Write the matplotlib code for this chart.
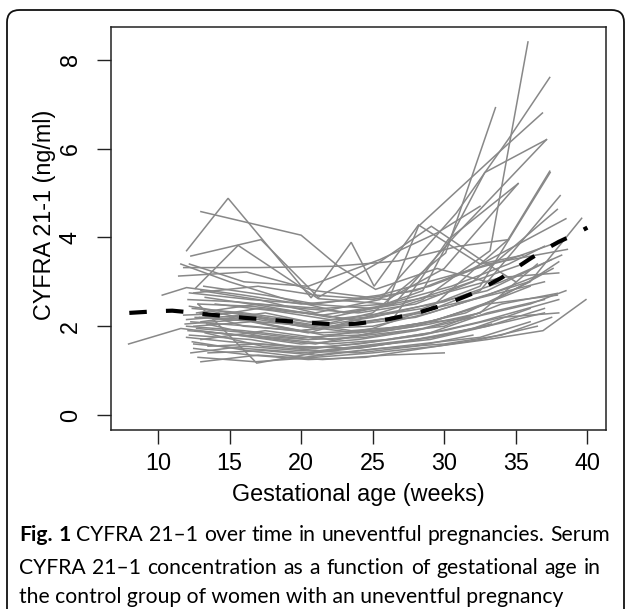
import matplotlib
matplotlib.use("Agg")
import matplotlib.pyplot as plt
from matplotlib.patches import FancyBboxPatch

# ---------------- data ----------------
traj_weeks = [
    [12.0, 14.9, 20.7, 23.5, 25.1, 28.2, 32.5, 35.5],
    [13.0, 20.0, 22.6, 25.2, 29.5, 33.0],
    [12.3, 17.2, 21.2, 25.5, 29.1, 33.0, 35.0],
    [11.8, 17.0, 22.4, 26.8, 31.0, 34.5],
    [11.45, 16.2, 21.0, 26.0, 30.0, 35.16],
    [12.6, 15.6, 21.2, 26.0, 30.5, 34.5, 37.0],
    [12.5, 16.5, 20.5, 24.5, 28.5, 33.2, 35.85],
    [13.0, 17.0, 21.0, 25.5, 30.85, 34.46, 37.37],
    [12.7, 17.0, 21.5, 26.0, 28.2, 33.76, 36.86],
    [12.9, 17.0, 21.0, 25.0, 30.1, 33.58],
    [13.3, 17.5, 22.0, 26.5, 30.74, 37.14],
    [12.2, 16.5, 20.5, 25.0, 28.5, 32.83, 37.14],
    [13.0, 17.5, 22.0, 26.5, 30.27, 35.16],
    [12.1, 16.0, 20.5, 25.0, 29.0, 34.46, 37.37],
    [12.2, 16.0, 20.5, 25.5, 29.5, 32.5],
    [11.6, 15.0, 19.0, 23.0, 27.0, 31.0, 35.5],
    [13.0, 17.0, 21.5, 26.0, 30.0],
    [12.8, 16.8, 21.0, 25.0, 29.5, 33.0, 36.9, 39.9],
    [13.5, 17.5, 21.0, 25.5, 30.0, 34.0, 37.5],
    [12.5, 16.0, 20.5, 24.5, 29.0, 33.0, 37.0],
    [12.2, 16.5, 20.0, 24.0, 28.5, 32.5, 38.0],
    [7.95, 11.6, 15.5, 20.0, 24.0, 28.0, 32.0],
    [12.0, 16.0, 20.0, 24.0, 28.0, 32.0, 36.0],
    [12.3, 16.5, 21.0, 25.0, 29.0, 33.0, 37.9],
    [12.6, 17.0, 21.0, 25.0, 29.0, 33.0, 37.0],
    [11.8, 15.5, 19.5, 23.5, 27.5, 31.5, 36.0, 39.6],
    [12.4, 16.0, 20.5, 24.5, 28.5, 32.5, 37.4],
    [12.8, 16.5, 20.5, 24.5, 28.5, 32.5, 38.1],
    [12.1, 15.5, 20.0, 24.0, 28.0, 32.0, 37.9],
    [10.3, 12.0, 16.0, 20.0, 24.0, 28.0, 32.0, 38.5],
    [12.5, 17.0, 21.0, 25.0, 29.0, 33.0, 38.6],
    [13.2, 17.5, 21.0, 25.5, 30.0, 34.5, 38.0],
    [12.0, 15.0, 19.5, 24.0, 28.0, 32.0, 36.0],
    [13.5, 17.0, 21.0, 25.0, 29.0, 33.0, 37.0],
    [12.7, 16.5, 20.5, 24.5, 28.5, 32.5, 36.5],
    [12.9, 16.0, 20.0, 24.0, 28.0, 32.0, 37.0],
    [12.2, 17.0, 21.0, 25.0, 29.0, 33.0, 37.5],
    [13.0, 17.5, 22.0, 26.0, 30.0, 34.0, 37.9],
    [13.4, 17.5, 22.0, 26.0, 30.0, 34.0, 38.0],
    [12.3, 16.0, 20.0, 24.0, 28.0, 32.0],
    [12.8, 16.9, 21.0, 25.0, 29.0, 33.0, 37.0],
    [12.4, 16.3, 20.2, 24.2, 28.3, 32.5, 36.0],
    [13.3, 17.3, 21.3, 25.3, 29.3, 33.3],
    [12.0, 16.0, 20.0, 24.0, 28.0, 32.0, 36.0, 38.5],
    [13.6, 17.6, 21.6, 25.6, 29.6, 33.6, 37.6],
    [12.5, 16.5, 20.5, 24.5, 28.5, 32.5, 36.5],
    [11.9, 15.9, 19.9, 23.9, 27.9, 31.9, 35.9, 38.0],
    [14.0, 18.0, 22.0, 26.0, 30.0, 34.0, 38.2],
    [12.6, 17.0, 21.0, 25.0, 29.0, 32.5],
    [13.1, 17.0, 21.5, 25.5, 29.5, 34.0, 38.0],
]
traj_values = [
    [3.70, 4.88, 2.64, 3.89, 2.90, 4.28, 3.40, 3.60],
    [4.58, 4.05, 3.35, 2.83, 3.30, 3.00],
    [3.58, 3.95, 2.65, 3.45, 4.25, 3.40, 3.00],
    [3.32, 3.32, 3.35, 3.47, 3.80, 3.95],
    [3.13, 3.22, 2.80, 2.60, 3.30, 5.21],
    [2.85, 3.82, 2.62, 2.50, 2.90, 3.40, 3.80],
    [2.00, 2.10, 1.85, 2.20, 2.60, 3.70, 8.40],
    [2.80, 2.60, 2.30, 2.60, 4.55, 6.20, 7.60],
    [2.30, 2.50, 2.40, 2.50, 4.25, 5.90, 6.80],
    [2.20, 2.10, 2.00, 2.30, 3.65, 6.92],
    [2.65, 2.45, 2.20, 2.50, 4.03, 6.20],
    [2.75, 2.60, 2.50, 2.40, 2.80, 5.46, 6.20],
    [2.10, 2.30, 2.00, 2.20, 3.95, 5.21],
    [1.90, 1.80, 1.70, 1.95, 2.40, 3.95, 5.49],
    [3.40, 3.00, 2.90, 3.50, 4.10, 4.70],
    [3.40, 3.00, 2.60, 2.30, 2.50, 2.90, 3.40],
    [1.20, 1.35, 1.25, 1.35, 1.40],
    [1.30, 1.20, 1.30, 1.40, 1.55, 1.70, 1.90, 2.60],
    [1.40, 1.45, 1.35, 1.50, 1.60, 1.80, 2.20],
    [1.60, 1.50, 1.40, 1.55, 1.70, 2.00, 2.30],
    [1.80, 1.70, 1.50, 1.60, 1.80, 2.10, 2.60],
    [1.60, 1.95, 1.80, 1.60, 1.70, 1.90, 2.20],
    [2.00, 1.90, 1.75, 1.80, 2.00, 2.40, 2.90],
    [2.10, 2.00, 1.85, 1.90, 2.10, 2.50, 2.70],
    [2.20, 2.15, 1.95, 2.00, 2.30, 2.70, 3.20],
    [2.25, 2.30, 2.10, 1.90, 2.00, 2.30, 3.00, 4.43],
    [2.40, 2.30, 2.10, 2.20, 2.40, 2.90, 5.46],
    [2.50, 2.45, 2.30, 2.10, 2.30, 2.80, 4.94],
    [2.60, 2.55, 2.40, 2.30, 2.50, 3.00, 4.63],
    [2.70, 2.87, 2.70, 2.50, 2.60, 2.80, 3.30, 4.42],
    [2.75, 2.90, 2.70, 2.60, 2.90, 3.40, 3.73],
    [2.90, 2.70, 2.50, 2.70, 3.10, 3.50, 3.90],
    [1.75, 1.65, 1.55, 1.50, 1.70, 1.95, 2.40],
    [1.55, 1.60, 1.50, 1.65, 1.85, 2.30, 2.60],
    [1.95, 1.85, 1.70, 1.75, 1.95, 2.30, 3.40],
    [2.30, 2.00, 1.90, 2.05, 2.20, 2.60, 3.00],
    [2.45, 2.20, 2.00, 2.20, 2.50, 2.80, 3.50],
    [1.70, 1.90, 1.70, 1.85, 2.00, 2.50, 2.74],
    [2.05, 1.75, 1.60, 1.70, 1.90, 2.20, 2.30],
    [1.40, 1.55, 1.45, 1.40, 1.55, 1.80],
    [2.50, 1.17, 1.40, 1.55, 1.75, 2.00, 2.40],
    [1.65, 1.45, 1.30, 1.45, 1.60, 1.75, 2.10],
    [1.85, 1.55, 1.45, 1.60, 1.75, 2.05],
    [2.15, 2.25, 2.00, 1.85, 2.05, 2.20, 2.50, 2.80],
    [2.35, 2.05, 1.80, 1.90, 2.15, 2.60, 3.30],
    [1.50, 1.35, 1.25, 1.30, 1.50, 1.70, 2.00],
    [2.05, 2.15, 1.90, 2.05, 2.30, 2.60, 3.00, 3.45],
    [2.50, 2.35, 2.15, 2.30, 2.55, 3.00, 3.60],
    [1.90, 1.75, 1.60, 1.85, 2.05, 2.30],
    [2.20, 2.40, 2.25, 2.45, 2.70, 3.10, 3.20],
]

mean_weeks = [8, 10, 11, 12, 13, 14, 16, 18, 20, 22, 23, 24, 26, 28, 30, 32, 34, 36, 37, 38, 39, 40]
mean_values = [2.30, 2.34, 2.35, 2.32, 2.28, 2.25, 2.19, 2.14, 2.09, 2.05, 2.04, 2.06, 2.15, 2.29, 2.48,
               2.74, 3.09, 3.52, 3.72, 3.90, 4.05, 4.22]

x_ticks = [10, 15, 20, 25, 30, 35, 40]
y_ticks = [0, 2, 4, 6, 8]
x_label = "Gestational age (weeks)"
y_label = "CYFRA 21-1 (ng/ml)"

caption_l1 = [("Fig.", "bold"), ("1", "bold"), ("CYFRA", "normal"), ("21\u20131", "normal"),
              ("over", "normal"), ("time", "normal"), ("in", "normal"), ("uneventful", "normal"),
              ("pregnancies.", "normal"), ("Serum", "normal")]
caption_l2 = "CYFRA 21\u20131 concentration as a function of gestational age in"
caption_l3 = "the control group of women with an uneventful pregnancy"

# ---------------- figure ----------------
W, H = 625, 609
fig = plt.figure(figsize=(W / 100, H / 100), dpi=100)
fig.patch.set_facecolor("white")

def fx(px):
    return px / W

def fy(py):
    return 1 - py / H

# outer rounded frame
frame = FancyBboxPatch((fx(7), fy(630)), fx(624) - fx(7), fy(10) - fy(630),
                       boxstyle="round,pad=0,rounding_size=0.02",
                       transform=fig.transFigure, fill=False, edgecolor="#111111",
                       linewidth=1.3, clip_on=False)
fig.patches.append(frame)

ax = fig.add_axes([fx(111), fy(430), fx(605.7) - fx(111), fy(27) - fy(430)])
axfont = "Liberation Sans"
axfs = 16.8

for wk, vals in zip(traj_weeks, traj_values):
    ax.plot(wk, vals, color="#888888", linewidth=1.1, solid_joinstyle="miter")

ax.plot(mean_weeks, mean_values, color="black", linewidth=3.0,
        linestyle=(0, (4.2, 4.6)), dash_capstyle="butt")

ax.set_xlim(6.72, 41.28)
ax.set_ylim(-0.336, 8.736)
ax.set_xticks(x_ticks)
ax.set_yticks(y_ticks)
ax.set_xticklabels([str(t) for t in x_ticks], family=axfont, fontsize=axfs)
ax.set_yticklabels([str(t) for t in y_ticks], family=axfont, fontsize=axfs,
                   rotation=90, va="center")
ax.tick_params(axis="both", direction="out", length=10, width=1.0, color="#222222")
ax.tick_params(axis="x", pad=6)
ax.tick_params(axis="y", pad=11)
for s in ax.spines.values():
    s.set_linewidth(1.1)
    s.set_color("#222222")

fig.text(fx(358), fy(495), x_label, family=axfont, fontsize=axfs, ha="center", va="center")
fig.text(fx(45), fy(215), y_label, family=axfont, fontsize=axfs, ha="center", va="center",
         rotation=90)

# ---------------- caption ----------------
capfont = "Lato"
fig.canvas.draw()
renderer = fig.canvas.get_renderer()

def text_width(s, size, weight="normal"):
    t = fig.text(0, 0, s, family=capfont, fontsize=size, fontweight=weight)
    w = t.get_window_extent(renderer).width
    t.remove()
    return w

base = 12.0
w2 = text_width(caption_l2, base)
cap_fs = base * 570.0 / w2

def justify(words, x0, x1, ybase):
    widths = [text_width(w, cap_fs, wt) for w, wt in words]
    gap = (x1 - x0 - sum(widths)) / (len(words) - 1)
    x = x0
    for (w, wt), wd in zip(words, widths):
        fig.text(fx(x), fy(ybase), w, family=capfont, fontsize=cap_fs, fontweight=wt,
                 ha="left", va="baseline")
        x += wd + gap

justify(caption_l1, 19, 610, 541)
justify([(w, "normal") for w in caption_l2.split(" ")], 19, 601, 574)
fig.text(fx(19), fy(603), caption_l3, family=capfont, fontsize=cap_fs,
         ha="left", va="baseline")

fig.savefig("out.png", dpi=100, facecolor="white")
